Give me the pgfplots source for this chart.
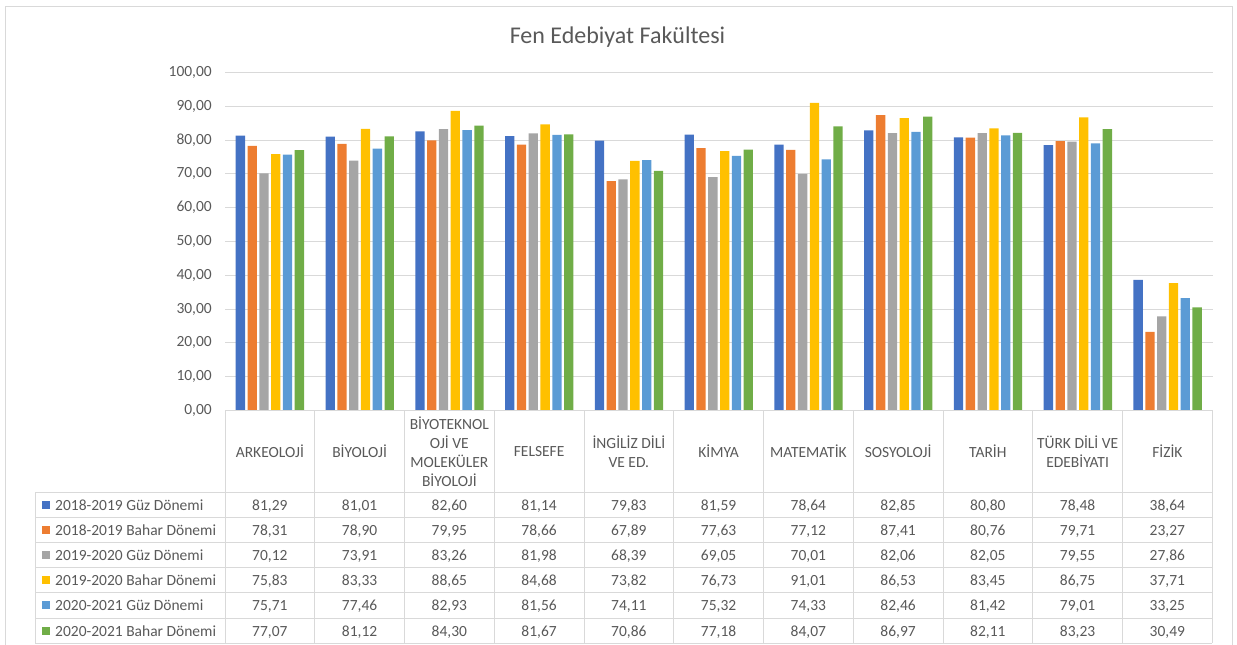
\documentclass[border=0pt]{standalone}
\usepackage{fontspec}
\setmainfont{Carlito}
\usepackage{pgfplots}
\usepackage{pgfplotstable}
\pgfplotsset{compat=1.18}

\definecolor{sA}{HTML}{4472C4}
\definecolor{sB}{HTML}{ED7D31}
\definecolor{sC}{HTML}{A5A5A5}
\definecolor{sD}{HTML}{FFC000}
\definecolor{sE}{HTML}{5B9BD5}
\definecolor{sF}{HTML}{70AD47}
\definecolor{txt}{HTML}{595959}
\definecolor{grd}{HTML}{D9D9D9}

\newcommand\tf{\fontsize{15.5}{19}\selectfont}
\pgfkeys{/pgf/number format/.cd,fixed,fixed zerofill,precision=2,use comma,assume math mode=true}

% rows: departments, columns: semesters
\pgfplotstableread{
x  s1    s2    s3    s4    s5    s6
0  81.29 78.31 70.12 75.83 75.71 77.07
1  81.01 78.90 73.91 83.33 77.46 81.12
2  82.60 79.95 83.26 88.65 82.93 84.30
3  81.14 78.66 81.98 84.68 81.56 81.67
4  79.83 67.89 68.39 73.82 74.11 70.86
5  81.59 77.63 69.05 76.73 75.32 77.18
6  78.64 77.12 70.01 91.01 74.33 84.07
7  82.85 87.41 82.06 86.53 82.46 86.97
8  80.80 80.76 82.05 83.45 81.42 82.11
9  78.48 79.71 79.55 86.75 79.01 83.23
10 38.64 23.27 27.86 37.71 33.25 30.49
}\data

\begin{document}
\begin{tikzpicture}
\useasboundingbox (0,0) rectangle (1237pt,-645pt);
\begin{axis}[
  at={(225pt,-410.5pt)}, anchor=south west,
  scale only axis, width=987.5pt, height=338pt,
  xmin=-0.5, xmax=10.5, ymin=0, ymax=100,
  ytick={0,10,...,100}, xtick=\empty,
  axis line style={draw=none}, major tick length=0pt,
  ymajorgrids, grid style={grd, line width=0.9pt},
  yticklabel style={font=\tf, text=txt, inner sep=0pt, xshift=-13pt},
  ybar=2.5pt, bar width=9.3pt,
  clip=false,
]
\addplot[fill=sA, draw=none] table[x=x,y=s1]{\data};
\addplot[fill=sB, draw=none] table[x=x,y=s2]{\data};
\addplot[fill=sC, draw=none] table[x=x,y=s3]{\data};
\addplot[fill=sD, draw=none] table[x=x,y=s4]{\data};
\addplot[fill=sE, draw=none] table[x=x,y=s5]{\data};
\addplot[fill=sF, draw=none] table[x=x,y=s6]{\data};
\end{axis}

\begin{scope}[x=1pt, y=-1pt]
% chart frame
\draw[grd, line width=1pt] (5,645) -- (5,6) -- (1232,6) -- (1232,645);
\node[font=\fontsize{24}{28}\selectfont, text=txt, anchor=base] at (617.5,43.3) {Fen Edebiyat Fakültesi};

% data table grid
\draw[grd, line width=1pt] (225,410.5) -- (1212.3,410.5);
\foreach \k in {0,...,11} \draw[grd, line width=1pt] ({225+89.75*\k},410.5) -- ({225+89.75*\k},643.3);
\draw[grd, line width=1pt] (35,492) -- (35,643.3);
\foreach \j in {0,...,6} \draw[grd, line width=1pt] (35,{492+25.22*\j}) -- (1212.3,{492+25.22*\j});

% department names
\foreach \k/\name in {0/ARKEOLOJİ, 1/BİYOLOJİ, 2/{BİYOTEKNOL\\OJİ VE\\MOLEKÜLER\\BİYOLOJİ},
  3/FELSEFE, 4/{İNGİLİZ DİLİ\\VE ED.}, 5/KİMYA, 6/MATEMATİK, 7/SOSYOLOJİ, 8/TARİH,
  9/{TÜRK DİLİ VE\\EDEBİYATI}, 10/FİZİK}
  \node[font=\tf, text=txt, align=center, inner sep=0pt] at ({225+89.75*(\k+0.5)},451.5) {\name};

% series keys and names
\foreach \c/\col/\lab in {1/sA/2018-2019 Güz Dönemi, 2/sB/2018-2019 Bahar Dönemi,
  3/sC/2019-2020 Güz Dönemi, 4/sD/2019-2020 Bahar Dönemi,
  5/sE/2020-2021 Güz Dönemi, 6/sF/2020-2021 Bahar Dönemi} {
  \fill[\col] (42,{492+25.22*(\c-0.5)-4}) rectangle (50,{492+25.22*(\c-0.5)+4});
  \node[font=\tf, text=txt, anchor=base west, inner sep=0pt] at (55,{492+25.22*(\c-0.5)+5.4}) {\lab};
}

% values
\foreach \r in {0,...,10} {
  \foreach \c in {1,...,6} {
    \pgfplotstablegetelem{\r}{s\c}\of\data
    \node[font=\tf, text=txt, anchor=base, inner sep=0pt] at ({225+89.75*(\r+0.5)},{492+25.22*(\c-0.5)+5.4}) {\pgfmathprintnumber{\pgfplotsretval}};
  }
}
\end{scope}
\end{tikzpicture}
\end{document}
